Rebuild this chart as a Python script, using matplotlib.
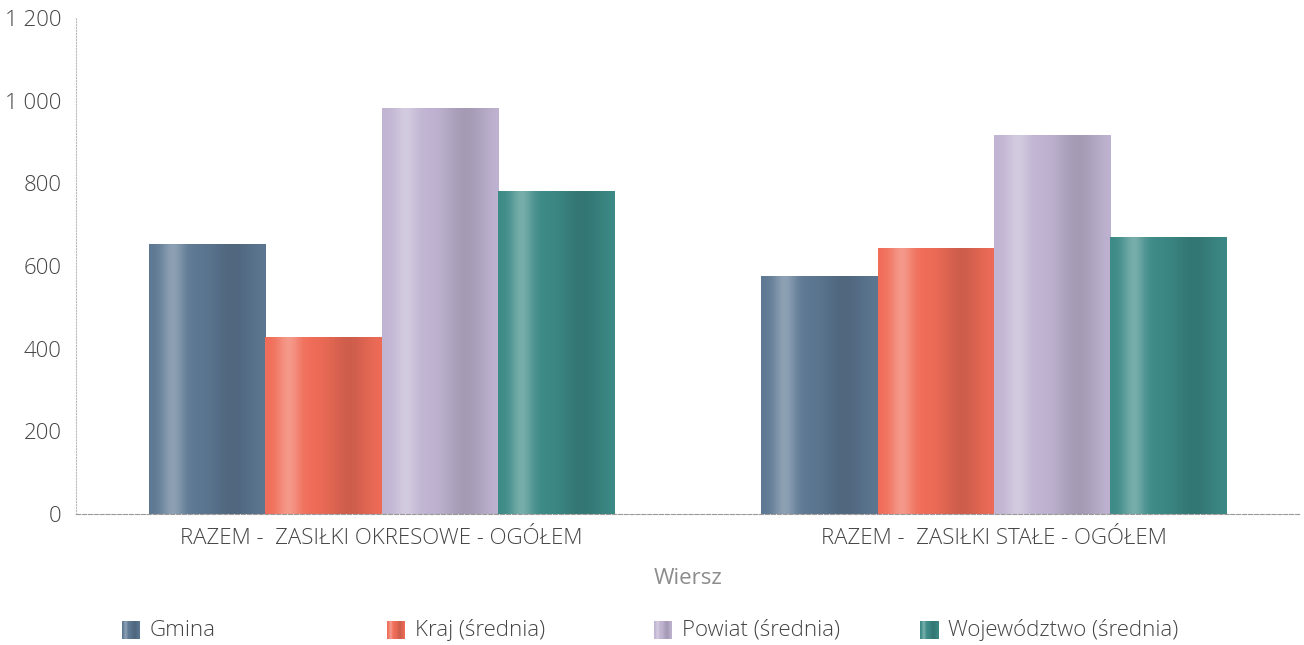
import numpy as np
import matplotlib.pyplot as plt
from matplotlib.colors import to_rgb

plt.rcParams['font.family'] = ['Open Sans', 'DejaVu Sans']
plt.rcParams['font.weight'] = 'light'

# dane
categories = ['RAZEM -  ZASIŁKI OKRESOWE - OGÓŁEM', 'RAZEM -  ZASIŁKI STAŁE - OGÓŁEM']
series = ['Gmina', 'Kraj (średnia)', 'Powiat (średnia)', 'Województwo (średnia)']
gmina = [653, 576]
kraj = [428, 643]
powiat = [982, 917]
wojewodztwo = [781, 670]
values = [gmina, kraj, powiat, wojewodztwo]
colors = ['#5d7893', '#f06d58', '#c0b4d2', '#3c8a86']
yticks = [0, 200, 400, 600, 800, 1000, 1200]


def shade(color, n=80):
    # cieniowanie "walca": jasny pas z lewej, ciemniej z prawej
    base = np.array(to_rgb(color))
    t = np.linspace(0, 1, n)
    light = 0.3 * np.exp(-((t - 0.2) / 0.1) ** 2)
    dark = 0.14 * np.exp(-((t - 0.72) / 0.18) ** 2)
    rgb = base[None, :] * (1 - dark[:, None])
    rgb = rgb + (1 - rgb) * light[:, None]
    return rgb[None, :, :]


fig, ax = plt.subplots(figsize=(13.04, 6.45), dpi=100)
fig.subplots_adjust(left=0.058, right=0.997, bottom=0.203, top=0.972)

x = np.arange(len(categories))
w = 0.19
offsets = (np.arange(len(series)) - 1.5) * w

for i, vals in enumerate(values):
    bars = ax.bar(x + offsets[i], vals, w, color=colors[i], linewidth=0, zorder=2)
    for p in bars:
        x0, y0 = p.get_xy()
        im = ax.imshow(shade(colors[i]), extent=[x0, x0 + p.get_width(), y0, y0 + p.get_height()],
                       aspect='auto', zorder=3, interpolation='bilinear')
        im.set_clip_path(p)

ax.set_xlim(-0.5, 1.5)
ax.set_ylim(0, 1200)

for s in ['top', 'right']:
    ax.spines[s].set_visible(False)
ax.spines['left'].set_linestyle(':')
ax.spines['left'].set_color('#bbbbbb')
ax.spines['left'].set_linewidth(0.8)
ax.spines['bottom'].set_linestyle('--')
ax.spines['bottom'].set_color('#999999')
ax.spines['bottom'].set_linewidth(0.8)
ax.spines['bottom'].set_zorder(4)

ax.set_yticks(yticks)
ax.set_yticklabels([f'{v:,}'.replace(',', ' ') for v in yticks])
ax.set_xticks(x)
ax.set_xticklabels(categories)
ax.tick_params(length=0, labelsize=16, labelcolor='#444444')
ax.tick_params(axis='y', pad=10)
ax.tick_params(axis='x', pad=10)

ax.set_xlabel('Wiersz', fontsize=16, color='#8c8c8c', labelpad=14)

# legenda (ręcznie, równe odstępy jak w oryginale)
leg_x = [122, 387, 654, 920]
for i, name in enumerate(series):
    sw = fig.add_axes([leg_x[i] / 1304, (645 - 639) / 645, 18 / 1304, 18 / 645])
    sw.imshow(shade(colors[i]), aspect='auto', interpolation='bilinear')
    sw.axis('off')
    fig.text((leg_x[i] + 28) / 1304, 1 - 630 / 645, name, fontsize=16, color='#444444',
             va='center', ha='left')

fig.savefig('out.png', dpi=100)
